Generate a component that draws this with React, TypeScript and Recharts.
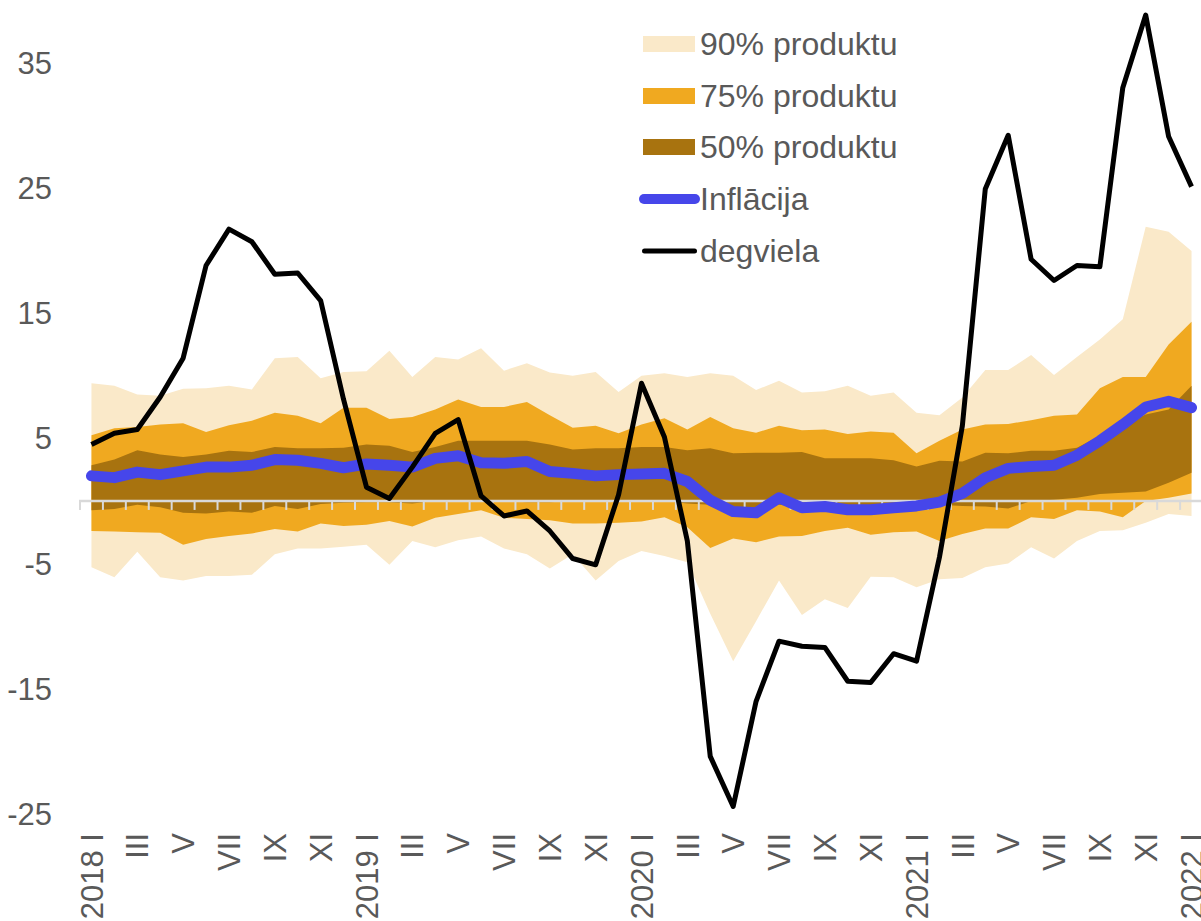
import React from 'react';
import {
    ComposedChart,
    Area,
    Line,
    XAxis,
    YAxis,
    Legend,
    ReferenceLine
} from 'recharts';

const FONT = '"Liberation Sans", Arial, sans-serif';
const TEXT = '#595959';

const YEARS = [2018, 2019, 2020, 2021, 2022];
const MONTHS = ['I', 'II', 'III', 'IV', 'V', 'VI', 'VII', 'VIII', 'IX', 'X', 'XI', 'XII'];

// 2018 I ... 2022 I, monthly; keys are unique, labels are what the axis shows
const monthKeys: string[] = [];
const monthLabels: Record<string, string> = {};
YEARS.forEach((year, yi) => {
    MONTHS.forEach((m, mi) => {
        if (yi === YEARS.length - 1 && mi > 0) return;
        const key = `${year}-${mi + 1}`;
        monthKeys.push(key);
        monthLabels[key] = mi === 0 ? `${year} ${m}` : m;
    });
});

const fuel = [
    4.5, 5.4, 5.7, 8.3, 11.4, 18.8, 21.7, 20.7, 18.1, 18.2, 16.0, 8.1,
    1.1, 0.2, 2.7, 5.4, 6.5, 0.4, -1.2, -0.8, -2.4, -4.6, -5.1, 0.5,
    9.4, 5.1, -3.2, -20.4, -24.4, -16.0, -11.2, -11.6, -11.7, -14.4, -14.5, -12.2,
    -12.8, -4.5, 6.0, 24.9, 29.2, 19.3, 17.6, 18.8, 18.7, 33.0, 38.8, 29.1, 25.1
];

const inflation = [
    2.0, 1.86, 2.3, 2.1, 2.4, 2.7, 2.7, 2.85, 3.3, 3.25, 3.0, 2.65,
    2.95, 2.85, 2.7, 3.4, 3.6, 3.05, 3.0, 3.15, 2.35, 2.2, 2.0, 2.1,
    2.15, 2.2, 1.55, 0.05, -0.85, -0.95, 0.25, -0.55, -0.45, -0.7, -0.7, -0.55,
    -0.4, -0.1, 0.6, 1.85, 2.6, 2.75, 2.85, 3.65, 4.8, 6.1, 7.5, 7.95, 7.45
];

const hi50 = [
    2.85, 3.3, 4.05, 3.7, 3.5, 3.7, 4.0, 3.9, 4.3, 4.2, 4.2, 4.25,
    4.5, 4.4, 3.9, 4.3, 4.8, 4.8, 4.8, 4.8, 4.5, 4.1, 4.2, 4.2,
    4.3, 4.3, 4.05, 4.2, 3.8, 3.85, 3.85, 3.9, 3.4, 3.4, 3.4, 3.25,
    2.75, 3.2, 3.15, 3.85, 3.8, 4.0, 4.0, 4.25, 5.2, 6.0, 6.9, 7.3, 9.2
];

const lo50 = [
    -0.75, -0.65, -0.3, -0.5, -0.95, -1.0, -0.85, -0.95, -0.4, -0.65, -0.25, -0.15,
    -0.1, -0.1, -0.2, 0, 0, 0, 0, -0.1, -0.1, 0, 0, 0,
    0, 0, -0.2, -0.3, -0.6, -0.6, -0.3, -0.5, -0.5, -0.5, -0.5, -0.5,
    -0.5, -0.3, -0.4, -0.45, -0.6, 0, 0.1, 0.25, 0.55, 0.65, 0.75, 1.45, 2.25
];

const hi75 = [
    5.25, 5.8, 5.9, 6.1, 6.2, 5.5, 6.05, 6.4, 7.05, 6.8, 6.2, 7.45,
    7.45, 6.55, 6.7, 7.3, 8.1, 7.5, 7.5, 7.9, 6.85, 5.85, 6.0, 5.4,
    6.1, 6.6, 5.7, 6.7, 5.8, 5.45, 6.0, 5.65, 5.7, 5.35, 5.55, 5.45,
    3.8, 4.8, 5.7, 6.1, 6.15, 6.45, 6.8, 6.9, 9.0, 9.9, 9.9, 12.5, 14.3
];

const lo75 = [
    -2.4, -2.45, -2.5, -2.55, -3.5, -3.05, -2.8, -2.6, -2.25, -2.45, -1.8, -2.0,
    -1.9, -1.6, -2.05, -1.35, -1.05, -0.75, -1.35, -1.45, -1.55, -1.8, -1.8, -1.75,
    -1.65, -1.3, -2.1, -3.75, -3.0, -3.3, -2.85, -2.8, -2.4, -2.15, -2.7, -2.5,
    -2.45, -3.2, -2.65, -2.2, -2.2, -1.3, -1.45, -0.75, -0.85, -1.3, 0.0, 0.25, 0.6
];

const hi90 = [
    9.4, 9.2, 8.5, 8.4, 8.95, 9.0, 9.2, 8.9, 11.4, 11.5, 9.8, 10.3,
    10.35, 12.0, 9.9, 11.5, 11.3, 12.2, 10.4, 11.0, 10.25, 10.0, 10.3, 8.7,
    10.0, 10.2, 9.9, 10.2, 10.0, 8.85, 9.6, 8.65, 8.75, 9.2, 8.4, 8.65,
    7.05, 6.85, 8.25, 10.45, 10.45, 11.65, 10.05, 11.5, 12.9, 14.5, 21.9, 21.5, 19.95
];

const lo90 = [
    -5.3, -6.1, -4.05, -6.1, -6.35, -6.0, -6.0, -5.9, -4.25, -3.8, -3.8, -3.65,
    -3.5, -5.1, -3.2, -3.7, -3.15, -2.85, -3.8, -4.25, -5.4, -4.25, -6.35, -4.8,
    -4.0, -4.4, -4.9, -9.0, -12.8, -9.6, -6.35, -9.1, -7.85, -8.55, -6.05, -6.1,
    -6.9, -6.25, -6.15, -5.3, -5.0, -3.7, -4.6, -3.2, -2.4, -2.35, -1.75, -1.05, -1.2
];

const Y_TICKS = [-25, -15, -5, 5, 15, 25, 35];

const COLORS = {
    band90: '#FAE9C9',
    band75: '#F0A920',
    band50: '#A8730F',
    inflation: '#4646EA',
    fuel: '#000000',
    axis: '#D9D9D9'
};

const LEGEND_ITEMS = [
    { name: '90% produktu', color: COLORS.band90, kind: 'area' },
    { name: '75% produktu', color: COLORS.band75, kind: 'area' },
    { name: '50% produktu', color: COLORS.band50, kind: 'area' },
    { name: 'Inflācija', color: COLORS.inflation, kind: 'thick' },
    { name: 'degviela', color: COLORS.fuel, kind: 'line' }
];

const data = monthKeys.map((month, i) => ({
    month,
    band90: [lo90[i], hi90[i]],
    band75: [lo75[i], hi75[i]],
    band50: [lo50[i], hi50[i]],
    inflation: inflation[i],
    fuel: fuel[i]
}));

// half a month of room on each side, like Excel's "between tick marks"
const PLOT_WIDTH = 1123;
const HALF_STEP = PLOT_WIDTH / monthKeys.length / 2;

// zero line with small tick marks between months (line spans the whole plot)
const ZeroAxis = (props: any) => {
    const { x1, x2, y1 } = props;
    const n = monthKeys.length;
    const step = (x2 - x1) / n;
    return (
        <g>
            <line x1={x1 - 1} x2={x2} y1={y1} y2={y1} stroke={COLORS.axis} strokeWidth={2.5} />
            {Array.from({ length: n + 1 }, (_, k) => (
                <line key={k} x1={x1 + k * step} x2={x1 + k * step} y1={y1} y2={y1 + 9} stroke={COLORS.axis} strokeWidth={2} />
            ))}
        </g>
    );
};

const XTick = (props: any) => {
    const { x, y, payload } = props;
    return (
        <text
            transform={`translate(${x},${y}) rotate(-90)`}
            textAnchor="end"
            dy="0.36em"
            fill={TEXT}
            fontSize={31}
            fontFamily={FONT}
        >
            {monthLabels[payload.value]}
        </text>
    );
};

const renderLegend = () => (
    <div style={{ fontFamily: FONT, fontSize: 32, color: TEXT }}>
        {LEGEND_ITEMS.map(item => (
            <div key={item.name} style={{ display: 'flex', alignItems: 'center', height: 51.75 }}>
                <svg width={64} height={52} style={{ display: 'block' }}>
                    {item.kind === 'area' && <rect x={7} y={18} width={52} height={16} fill={item.color} />}
                    {item.kind === 'thick' && (
                        <line x1={8} x2={59} y1={26} y2={26} stroke={item.color} strokeWidth={10} strokeLinecap="round" />
                    )}
                    {item.kind === 'line' && (
                        <line x1={8.5} x2={58.5} y1={26} y2={26} stroke={item.color} strokeWidth={5} strokeLinecap="round" />
                    )}
                </svg>
                <span style={{ whiteSpace: 'nowrap', lineHeight: 1 }}>{item.name}</span>
            </div>
        ))}
    </div>
);

const App: React.FC = () => {
    return (
        <div style={{ position: 'absolute', left: 0, top: 0, width: 1201, height: 921, overflow: 'hidden', background: '#fff' }}>
            <ComposedChart
                width={80 + PLOT_WIDTH}
                height={921}
                data={data}
                margin={{ top: 0, right: 0, bottom: 0, left: 0 }}
            >
                <XAxis
                    dataKey="month"
                    type="category"
                    interval={1}
                    padding={{ left: HALF_STEP, right: HALF_STEP }}
                    axisLine={false}
                    tickLine={false}
                    tickSize={0}
                    tickMargin={19}
                    height={107}
                    tick={<XTick />}
                />
                <YAxis
                    type="number"
                    domain={[-25, 40]}
                    ticks={Y_TICKS}
                    allowDataOverflow
                    width={80}
                    axisLine={false}
                    tickLine={false}
                    tickSize={0}
                    tickMargin={28}
                    tick={{ fill: TEXT, fontSize: 31, fontFamily: FONT }}
                />
                <Area type="linear" dataKey="band90" stroke="none" fill={COLORS.band90} fillOpacity={1} isAnimationActive={false} />
                <Area type="linear" dataKey="band75" stroke="none" fill={COLORS.band75} fillOpacity={1} isAnimationActive={false} />
                <Area type="linear" dataKey="band50" stroke="none" fill={COLORS.band50} fillOpacity={1} isAnimationActive={false} />
                <ReferenceLine y={0} shape={ZeroAxis} />
                <Line
                    type="linear"
                    dataKey="inflation"
                    stroke={COLORS.inflation}
                    strokeWidth={11}
                    strokeLinecap="round"
                    strokeLinejoin="round"
                    dot={false}
                    isAnimationActive={false}
                />
                <Line
                    type="linear"
                    dataKey="fuel"
                    stroke={COLORS.fuel}
                    strokeWidth={5}
                    strokeLinejoin="round"
                    dot={false}
                    isAnimationActive={false}
                />
                <Legend
                    layout="vertical"
                    align="center"
                    verticalAlign="middle"
                    content={renderLegend}
                    wrapperStyle={{ left: 636, top: 18, width: 'auto', height: 'auto' }}
                />
            </ComposedChart>
        </div>
    );
};

export default App;
